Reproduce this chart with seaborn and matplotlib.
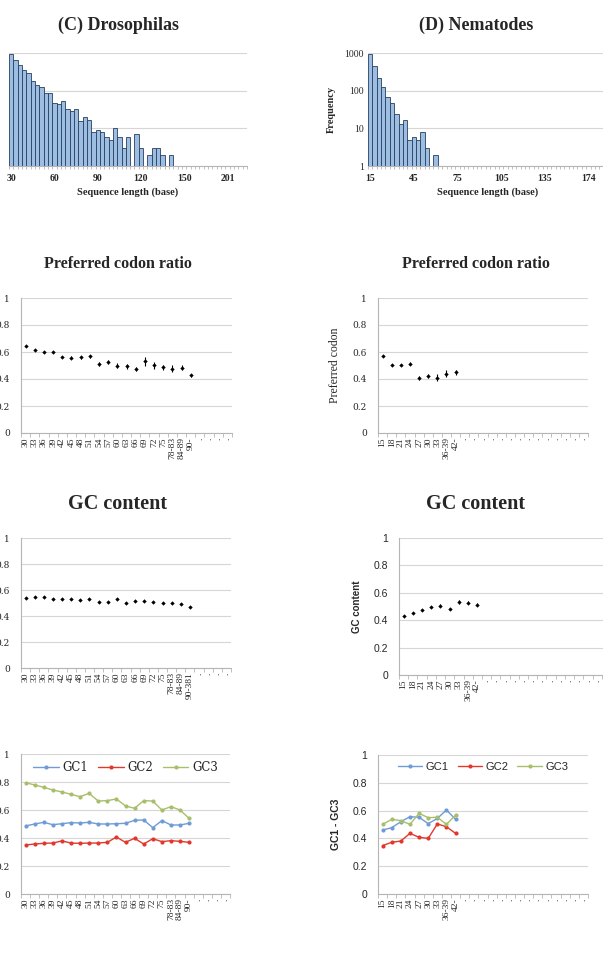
import numpy as np
import pandas as pd
import seaborn as sns
import matplotlib.pyplot as plt

# ---- data ----
# (C) Drosophilas: length bins (3 bases) and frequency
dros_bins = [30, 33, 36, 39, 42, 45, 48, 51, 54, 57, 60, 63, 66, 69, 72, 75, 78, 81, 84, 87,
             90, 93, 96, 99, 102, 105, 108, 111, 114, 117, 120, 123, 126, 129, 132, 135, 138, 141, 144, 147,
             150, 153, 156, 159, 162, 165, 168, 171, 174, 177, 201, 204, 207, 210, 213]
dros_freq = [958, 663, 478, 352, 293, 183, 140, 122, 86, 86, 47, 44, 52, 32, 29, 32, 16, 20, 17, 8,
             9, 8, 6, 5, 10, 6, 3, 6, 0, 7, 3, 0, 2, 3, 3, 2, 0, 2, 0, 0,
             0, 0, 0, 0, 0, 0, 0, 0, 0, 0, 0, 0, 0, 0, 0]
# (D) Nematodes
nema_bins = [15, 18, 21, 24, 27, 30, 33, 36, 39, 42, 45, 48, 51, 54, 57, 60, 63, 66, 69, 72,
             75, 78, 81, 84, 87, 90, 93, 96, 99, 102, 105, 108, 111, 114, 117, 120, 123, 126, 129, 132,
             135, 138, 141, 144, 147, 150, 153, 156, 159, 162, 174, 177, 180, 183, 186]
nema_freq = [958, 441, 211, 124, 67, 47, 24, 13, 17, 5, 6, 5, 8, 3, 0, 2, 0, 0, 0, 0,
             0, 0, 0, 0, 0, 0, 0, 0, 0, 0, 0, 0, 0, 0, 0, 0, 0, 0, 0, 0,
             0, 0, 0, 0, 0, 0, 0, 0, 0, 0, 0, 0, 0, 0, 0]

dros_cats = ['30', '33', '36', '39', '42', '45', '48', '51', '54', '57', '60', '63', '66', '69',
             '72', '75', '78-83', '84-89', '90-']
dros_cats_gc = dros_cats[:-1] + ['90-381']
nema_cats = ['15', '18', '21', '24', '27', '30', '33', '36-39', '42-']

dros_codon = [0.642, 0.617, 0.598, 0.598, 0.563, 0.558, 0.560, 0.568, 0.509, 0.526,
              0.499, 0.494, 0.474, 0.531, 0.501, 0.486, 0.477, 0.484, 0.427]
dros_codon_err = [0.005, 0.005, 0.005, 0.007, 0.01, 0.01, 0.01, 0.012, 0.015, 0.015,
                  0.018, 0.018, 0.015, 0.035, 0.025, 0.02, 0.025, 0.02, 0.01]
nema_codon = [0.568, 0.506, 0.501, 0.514, 0.410, 0.420, 0.410, 0.440, 0.449]
nema_codon_err = [0.003, 0.005, 0.007, 0.012, 0.015, 0.015, 0.025, 0.025, 0.02]

dros_gc = [0.541, 0.546, 0.546, 0.533, 0.533, 0.528, 0.523, 0.533, 0.508, 0.510,
           0.528, 0.500, 0.513, 0.518, 0.508, 0.500, 0.500, 0.492, 0.472]
dros_gc_err = [0.004, 0.004, 0.004, 0.004, 0.004, 0.005, 0.005, 0.005, 0.006, 0.006,
               0.007, 0.008, 0.007, 0.008, 0.009, 0.008, 0.009, 0.01, 0.008]
nema_gc = [0.432, 0.456, 0.473, 0.495, 0.507, 0.483, 0.532, 0.529, 0.512]
nema_gc_err = [0.004, 0.005, 0.006, 0.007, 0.008, 0.008, 0.012, 0.012, 0.01]

dros_gc1 = [0.486, 0.500, 0.512, 0.495, 0.502, 0.510, 0.507, 0.512, 0.500, 0.500,
            0.502, 0.505, 0.526, 0.529, 0.474, 0.524, 0.493, 0.493, 0.505]
dros_gc2 = [0.350, 0.357, 0.362, 0.364, 0.379, 0.364, 0.362, 0.364, 0.364, 0.369,
            0.407, 0.369, 0.398, 0.357, 0.395, 0.374, 0.381, 0.376, 0.369]
dros_gc3 = [0.795, 0.779, 0.762, 0.743, 0.729, 0.712, 0.695, 0.719, 0.664, 0.667,
            0.679, 0.629, 0.612, 0.667, 0.664, 0.600, 0.624, 0.600, 0.540]
nema_gc1 = [0.460, 0.477, 0.520, 0.556, 0.552, 0.506, 0.544, 0.604, 0.537]
nema_gc2 = [0.348, 0.372, 0.381, 0.436, 0.408, 0.400, 0.504, 0.484, 0.436]
nema_gc3 = [0.501, 0.537, 0.528, 0.501, 0.580, 0.549, 0.552, 0.501, 0.568]

N_CATS = 23
BAR = '#9dbde3'
EDGE = '#27405f'
GRID = '#d6d6d6'
AXC = '#b5b5b5'
GC_COLORS = {'GC1': '#6f9bd6', 'GC2': '#e2382c', 'GC3': '#a7bf6a'}

sns.set_theme(style='white')
plt.rcParams['font.family'] = ['DejaVu Serif']

W, H = 603, 961
fig = plt.figure(figsize=(W / 100, H / 100), dpi=100)


def box(l, t, r, b):
    return [l / W, 1 - b / H, (r - l) / W, (b - t) / H]


def style_axes(ax, left_spine=True):
    for s in ['top', 'right']:
        ax.spines[s].set_visible(False)
    ax.spines['left'].set_visible(left_spine)
    ax.spines['left'].set_color(AXC)
    ax.spines['bottom'].set_color(AXC)
    ax.spines['left'].set_linewidth(0.8)
    ax.spines['bottom'].set_linewidth(0.8)
    ax.yaxis.grid(True, color=GRID, lw=0.8)
    ax.set_axisbelow(True)
    ax.set_xlabel('')
    ax.set_ylabel('')


def hist_panel(rect, bins, freq, ylab=None, yticks=True):
    ax = fig.add_axes(rect)
    df = pd.DataFrame({'bin': [str(b) for b in bins], 'n': freq})
    df['n'] = df['n'].replace(0, np.nan)  # empty bins: no bar on the log axis
    sns.barplot(data=df, x='bin', y='n', order=list(df['bin']), color=BAR, saturation=1,
                edgecolor=EDGE, linewidth=0.6, width=1, ax=ax)
    ax.set_yscale('log')
    ax.set_ylim(1, 1000)
    ax.set_xlim(-0.5, len(bins) - 0.5)
    style_axes(ax, left_spine=False)
    ax.set_xticks(range(0, len(bins), 10))
    ax.set_xticklabels([str(bins[i]) for i in range(0, len(bins), 10)],
                       family='Liberation Serif', fontweight='bold', fontsize=7)
    ax.set_xticks(np.arange(len(bins) + 1) - 0.5, minor=True)
    ax.tick_params(axis='x', which='major', length=0, pad=6)
    ax.tick_params(axis='x', which='minor', bottom=True, length=2.5, color=AXC, width=0.6)
    ax.set_yticks([1, 10, 100, 1000])
    ax.yaxis.set_minor_locator(plt.NullLocator())
    if yticks:
        ax.set_yticklabels(['1', '10', '100', '1000'], family='Liberation Serif', fontsize=7)
    else:
        ax.set_yticklabels([])
    ax.tick_params(axis='y', length=0, pad=3)
    ax.set_xlabel('Sequence length (base)', family='Liberation Serif', fontweight='bold',
                  fontsize=7.5, labelpad=3)
    if ylab:
        ax.set_ylabel(ylab, family='Liberation Serif', fontweight='bold', fontsize=7.5, labelpad=6)
    return ax


def cat_axis(ax, cats, tick_font, ytick_font, ytick_size, ylab=None, ylab_font=None,
             ylab_size=8, ylab_weight='normal', ylabelpad=8):
    labels = cats + ['.'] * (N_CATS - len(cats))
    ax.set_xlim(-0.5, N_CATS - 0.5)
    ax.set_ylim(0, 1)
    style_axes(ax)
    ax.set_xticks(range(N_CATS))
    ax.set_xticklabels(labels, rotation=90, family=tick_font, fontsize=6.8)
    ax.set_xticks(np.arange(N_CATS + 1) - 0.5, minor=True)
    ax.tick_params(axis='x', which='major', length=0, pad=3)
    ax.tick_params(axis='x', which='minor', bottom=True, length=3, color=AXC, width=0.6)
    ax.set_yticks([0, 0.2, 0.4, 0.6, 0.8, 1])
    ax.set_yticklabels(['0', '0.2', '0.4', '0.6', '0.8', '1'], family=ytick_font, fontsize=ytick_size)
    ax.tick_params(axis='y', length=0, pad=8)
    if ylab:
        ax.set_ylabel(ylab, family=ylab_font, fontsize=ylab_size, fontweight=ylab_weight,
                      labelpad=ylabelpad)


def dot_panel(rect, cats, vals, errs, **kw):
    ax = fig.add_axes(rect)
    x = np.arange(len(vals))
    ax.errorbar(x, vals, yerr=errs, fmt='none', ecolor='black', elinewidth=0.8, capsize=0, zorder=3)
    sns.scatterplot(x=x, y=vals, color='black', marker='D', s=5, linewidth=0, zorder=4, ax=ax)
    cat_axis(ax, cats, **kw)
    return ax


def gc_panel(rect, cats, gc1, gc2, gc3, legend_font, legend_size, **kw):
    ax = fig.add_axes(rect)
    n = len(gc1)
    df = pd.DataFrame({'x': list(range(n)) * 3,
                       'v': gc1 + gc2 + gc3,
                       's': ['GC1'] * n + ['GC2'] * n + ['GC3'] * n})
    sns.lineplot(data=df, x='x', y='v', hue='s', palette=GC_COLORS, marker='o', markersize=3,
                 markeredgewidth=0, lw=1, ax=ax)
    cat_axis(ax, cats, **kw)
    ax.legend(loc='upper center', bbox_to_anchor=(0.5, 1.0), ncol=3, frameon=False,
              prop={'family': legend_font, 'size': legend_size}, handlelength=2.2,
              handletextpad=0.3, columnspacing=0.8, borderaxespad=0.2)
    return ax


# ---- row 1: length histograms ----
hist_panel(box(9, 53, 247, 166), dros_bins, dros_freq, yticks=False)
hist_panel(box(368, 53, 608, 166), nema_bins, nema_freq, ylab='Frequency')
fig.text(118 / W, 1 - 25 / H, '(C) Drosophilas', ha='center', va='center',
         family='Liberation Serif', fontweight='bold', fontsize=13)
fig.text(476 / W, 1 - 25 / H, '(D) Nematodes', ha='center', va='center',
         family='Liberation Serif', fontweight='bold', fontsize=13)

# ---- row 2: preferred codon ratio ----
serif_kw = dict(tick_font='Liberation Serif', ytick_font='DejaVu Serif', ytick_size=6.5)
dot_panel(box(21, 298, 232, 433), dros_cats, dros_codon, dros_codon_err, **serif_kw)
dot_panel(box(378, 298, 588, 433), nema_cats, nema_codon, nema_codon_err,
          ylab='Preferred codon', ylab_font='Liberation Serif', ylab_size=8.5, **serif_kw)
for xc in (118, 476):
    fig.text(xc / W, 1 - 264 / H, 'Preferred codon ratio', ha='center', va='center',
             family='Liberation Serif', fontweight='bold', fontsize=11.5)

# ---- row 3: GC content ----
dot_panel(box(21, 538, 231, 668), dros_cats_gc, dros_gc, dros_gc_err, **serif_kw)
dot_panel(box(399, 538, 611, 675), nema_cats, nema_gc, nema_gc_err,
          tick_font='Liberation Serif', ytick_font='Liberation Sans', ytick_size=7.5,
          ylab='GC content', ylab_font='Liberation Sans', ylab_size=7, ylab_weight='bold')
for xc in (118, 476):
    fig.text(xc / W, 1 - 504 / H, 'GC content', ha='center', va='center',
             family='Liberation Serif', fontweight='bold', fontsize=14.5)

# ---- row 4: GC1 - GC3 ----
gc_panel(box(21, 754, 230, 894), dros_cats, dros_gc1, dros_gc2, dros_gc3,
         legend_font='DejaVu Serif', legend_size=8.5, **serif_kw)
gc_panel(box(378, 755, 588, 894), nema_cats, nema_gc1, nema_gc2, nema_gc3,
         legend_font='Liberation Sans', legend_size=8,
         tick_font='Liberation Serif', ytick_font='Liberation Sans', ytick_size=7.5,
         ylab='GC1 - GC3', ylab_font='Liberation Sans', ylab_size=7.5, ylab_weight='bold')

fig.savefig('out.png', dpi=100, facecolor='white')
